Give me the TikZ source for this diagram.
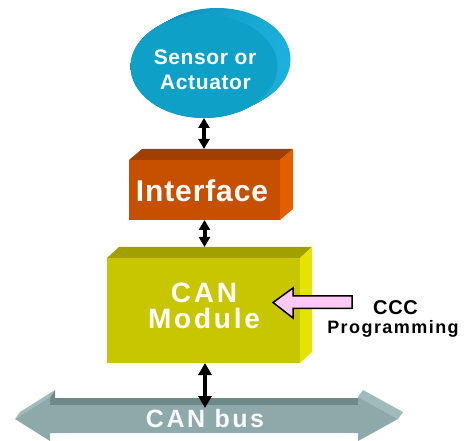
\documentclass[tikz,border=0pt]{standalone}
\usepackage{fontspec}
\setmainfont{Liberation Sans}
\newfontfamily\tightsans{Liberation Sans}[LetterSpace=3]
\newfontfamily\widesans{Liberation Sans}[LetterSpace=10]
\newfontfamily\widersans{Liberation Sans}[LetterSpace=8]
\usetikzlibrary{arrows.meta,shapes.geometric,calc}

\definecolor{sensorfront}{HTML}{0FA0C8}
\definecolor{sensorrimL}{HTML}{0A88AE}
\definecolor{sensorrimR}{HTML}{1CB0DC}
\definecolor{ifacefront}{HTML}{C64F00}
\definecolor{ifacetop}{HTML}{A03F00}
\definecolor{ifaceside}{HTML}{E25F00}
\definecolor{canfront}{HTML}{C8C600}
\definecolor{cantop}{HTML}{A29F00}
\definecolor{canside}{HTML}{E4E400}
\definecolor{busfront}{HTML}{8DA9A9}
\definecolor{busband}{HTML}{6D8989}
\definecolor{bushead}{HTML}{A0BBBB}
\definecolor{progpink}{HTML}{FFC8F5}

\begin{document}
\begin{tikzpicture}[x=1pt,y=-1pt,
  lbl/.style={inner sep=0, anchor=base, text=white},
  block/.style={inner sep=0, outer sep=0},
  link/.style={line width=4pt,
    {Triangle[width=11pt,length=10pt]}-{Triangle[width=11pt,length=10pt]}},
  buslink/.style={line width=4.5pt,
    {Triangle[width=13pt,length=12pt]}-{Triangle[width=13pt,length=12pt]}}]
\useasboundingbox (0,0) rectangle (472,441);
\fill[white] (0,0) rectangle (472,441);

% ---- sensor / actuator disc: extruded rim, then front face ----
\foreach \t in {0,1,...,13}
  \shade[left color=sensorrimL, right color=sensorrimR]
    (217-\t,59.5+\t*7/13) ellipse [x radius=73.5, y radius=51.5];
\node[block, ellipse, fill=sensorfront, minimum width=147, minimum height=103]
  (sensor) at (204,66.5) {};
\node[lbl, font={\tightsans\bfseries\fontsize{21}{21}\selectfont}]
  (sensorA) at (205,65) {Sensor or};
\node[lbl, font={\tightsans\bfseries\fontsize{21}{21}\selectfont}]
  (sensorB) at (205.5,90) {Actuator};

% ---- interface block ----
\node[block, fill=ifacefront, minimum width=151, minimum height=60]
  (iface) at (204.5,190) {};
\fill[ifacetop] (iface.north west) -- ++(13,-11)
  -- ($(iface.north east)+(13,-11)$) -- (iface.north east) -- cycle;
\fill[ifaceside] (iface.north east) -- ++(13,-11)
  -- ($(iface.south east)+(13,-11)$) -- (iface.south east) -- cycle;
\node[lbl, font={\tightsans\bfseries\fontsize{30}{30}\selectfont}]
  (ifacelbl) at (202,202) {Interface};

% ---- CAN module block ----
\node[block, fill=canfront, minimum width=193, minimum height=105]
  (can) at (203.5,310.5) {};
\fill[cantop] (can.north west) -- ++(12,-11)
  -- ($(can.north east)+(12,-11)$) -- (can.north east) -- cycle;
\fill[canside] (can.north east) -- ++(12,-11)
  -- ($(can.south east)+(12,-11)$) -- (can.south east) -- cycle;
\node[lbl, font={\widesans\bfseries\fontsize{28}{28}\selectfont}]
  (canA) at (204,302) {CAN};
\node[lbl, font={\widesans\bfseries\fontsize{28}{28}\selectfont}]
  (canB) at (204,329) {Module};

% ---- CAN bus double arrow ----
\fill[busband] (50,397) -- (55,390) -- (55,398) -- (363,398)
  -- (358,405) -- (50,405) -- cycle;
\fill[bushead] (15,419) -- (20,412) -- (55,390) -- (50,397) -- cycle;
\fill[bushead] (358,397) -- (363,390) -- (403,412) -- (398,419) -- cycle;
\fill[busfront] (15,419) -- (50,397) -- (50,405) -- (358,405) -- (358,397)
  -- (398,419) -- (358,441) -- (358,433) -- (50,433) -- (50,441) -- cycle;
\node[lbl, font={\widesans\bfseries\fontsize{25}{25}\selectfont}, text=white!95!busfront]
  (bus) at (205,428) {CAN bus};
\coordinate (busTop) at (205,408);

% ---- programming input ----
\node[lbl, text=black, font={\tightsans\bfseries\fontsize{20}{20}\selectfont}]
  (ccc) at (395.5,315) {CCC};
\node[lbl, text=black, font={\widersans\bfseries\fontsize{18}{18}\selectfont}]
  (prog) at (393,334) {Programming};
\coordinate (progTip) at (273,302.5);
\draw[fill=progpink, line width=1.5pt, line join=miter]
  (progTip) -- ++(20,-14.5) -- ++(0,8) -- ++(59,0) -- ++(0,12.5)
  -- ++(-59,0) -- ++(0,9.5) -- cycle;

% ---- vertical links ----
\coordinate (ifaceTop) at ($(iface.north)+(0,-11)$);
\coordinate (canTop) at ($(can.north)+(0,-11)$);
\draw[link] (sensor.south) -- (sensor.south |- ifaceTop);
\draw[link] (iface.south) -- (iface.south |- canTop);
\draw[buslink] (can.south -| busTop) -- (busTop);
\end{tikzpicture}
\end{document}
